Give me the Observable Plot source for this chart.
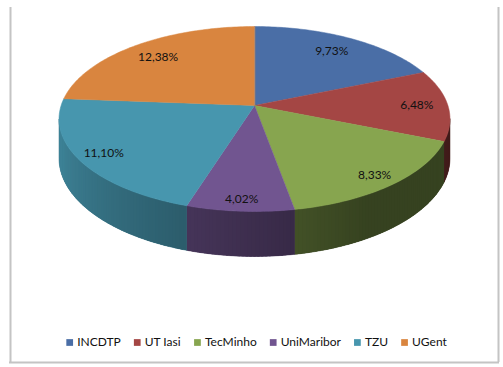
<!DOCTYPE html>
<html><head><meta charset="utf-8">
<script src="https://cdn.jsdelivr.net/npm/d3@7"></script>
<script src="https://cdn.jsdelivr.net/npm/@observablehq/plot@0.6"></script>
<style>body{margin:0;background:#fff}</style>
</head><body><div id="chart"></div>
<script>
const categories = ["INCDTP", "UT Iasi", "TecMinho", "UniMaribor", "TZU", "UGent"];
const values = [9.73, 6.48, 8.33, 4.02, 11.10, 12.38];
const labels = ["9,73%", "6,48%", "8,33%", "4,02%", "11,10%", "12,38%"];
const colors = ["#4A6EA6", "#A44644", "#87A54F", "#715590", "#4796AE", "#D9853F"];

const W = 503, H = 367;
const CX = 254, CY = 105, A = 193.4, B = 90.5, C = 0.146, DEPTH = 38.4;
const FONT = "Lato";

function proj(theta, r = 1) { // theta: degrees clockwise from top
  const t = theta * Math.PI / 180;
  const u = r * Math.sin(t), v = -r * Math.cos(t);
  const w = 1 - C * v;
  return {x: CX + A * u / w, y: CY + B * v / w, w};
}
function shade(hex, tm) {
  const b = tm < 150 ? 0.40 : 0.40 + 0.52 * (tm - 150) / 115;
  const c = d3.rgb(hex);
  return d3.rgb(c.r * b, c.g * b, c.b * b).formatHex();
}

const total = d3.sum(values);
let acc = 0;
const slices = values.map((v, i) => {
  const a0 = acc / total * 360; acc += v; const a1 = acc / total * 360;
  return {i, a0, a1, mid: (a0 + a1) / 2};
});

// top faces
const topPts = [];
slices.forEach(s => {
  const c = proj(0, 0);
  topPts.push({id: "t" + s.i, x: c.x, y: c.y, fill: colors[s.i]});
  const n = Math.max(2, Math.ceil(s.a1 - s.a0));
  for (let k = 0; k <= n; k++) {
    const p = proj(s.a0 + (s.a1 - s.a0) * k / n);
    topPts.push({id: "t" + s.i, x: p.x, y: p.y, fill: colors[s.i]});
  }
});

// visible side: underlay per slice + overlapping shaded strips
const vis0 = Math.acos(-C) * 180 / Math.PI, vis1 = 360 - vis0;
const sideBase = [], sidePts = [];
slices.forEach(s => {
  const a0 = Math.max(s.a0, vis0), a1 = Math.min(s.a1, vis1);
  if (a1 <= a0) return;
  const n = Math.ceil(a1 - a0);
  const baseCol = shade(colors[s.i], (a0 + a1) / 2);
  const top = [], bot = [];
  for (let k = 0; k <= n; k++) {
    const p = proj(a0 + (a1 - a0) * k / n);
    top.push({id: "b" + s.i, x: p.x, y: p.y, fill: baseCol});
    bot.push({id: "b" + s.i, x: p.x, y: p.y + DEPTH / p.w, fill: baseCol});
  }
  sideBase.push(...top, ...bot.reverse());
  for (let k = 0; k < n; k++) {
    const t0 = a0 + (a1 - a0) * k / n;
    const t1 = Math.min(a1, a0 + (a1 - a0) * (k + 1) / n + 0.6);
    const col = shade(colors[s.i], (t0 + t1) / 2);
    const p0 = proj(t0), p1 = proj(t1);
    const id = `s${s.i}_${k}`;
    sidePts.push(
      {id, x: p0.x, y: p0.y, fill: col},
      {id, x: p1.x, y: p1.y, fill: col},
      {id, x: p1.x, y: p1.y + DEPTH / p1.w, fill: col},
      {id, x: p0.x, y: p0.y + DEPTH / p0.w, fill: col}
    );
  }
});

// data labels
const labelPts = slices.map(s => {
  const v = -Math.cos(s.mid * Math.PI / 180);
  const p = proj(s.mid, 0.84 + 0.06 * v);
  return {x: p.x, y: p.y, text: labels[s.i]};
});

// legend layout
const ctx = document.createElement("canvas").getContext("2d");
ctx.font = `12px ${FONT}`;
const widths = categories.map(c => ctx.measureText(c).width);
const GAP = 13;
const totalW = d3.sum(widths) + categories.length * 11 + (categories.length - 1) * GAP;
let pos = 256 - totalW / 2;
const legend = categories.map((c, i) => {
  const e = {sq: pos + 3.5, tx: pos + 11, y: 342, text: c, fill: colors[i]};
  pos += 11 + widths[i] + GAP;
  return e;
});

const chart = Plot.plot({
  width: W, height: H, margin: 0,
  x: {domain: [0, W], range: [0, W], axis: null},
  y: {domain: [0, H], range: [0, H], axis: null},
  color: {type: "identity"},
  style: {background: "#fff", fontFamily: FONT},
  marks: [
    Plot.ruleX([10, 498], {y1: 7, y2: 362, stroke: "#c4c4c4", strokeWidth: 2}),
    Plot.ruleY([362], {x1: 9, x2: 499, stroke: "#c4c4c4", strokeWidth: 2}),
    Plot.line(sideBase, {x: "x", y: "y", z: "id", fill: "fill", stroke: "fill", strokeWidth: 0.5, curve: "linear-closed"}),
    Plot.line(sidePts, {x: "x", y: "y", z: "id", fill: "fill", stroke: null, curve: "linear-closed"}),
    Plot.line(topPts, {x: "x", y: "y", z: "id", fill: "fill", stroke: "fill", strokeWidth: 0.5, curve: "linear-closed"}),
    Plot.text(labelPts, {x: "x", y: "y", text: "text", fontSize: 12, fill: "#111"}),
    Plot.dot(legend, {x: "sq", y: "y", symbol: "square", r: 3.8, fill: "fill", stroke: null}),
    Plot.text(legend, {x: "tx", y: "y", text: "text", textAnchor: "start", fontSize: 12, fill: "#111"})
  ]
});
document.getElementById("chart").appendChild(chart);
</script>
</body></html>
